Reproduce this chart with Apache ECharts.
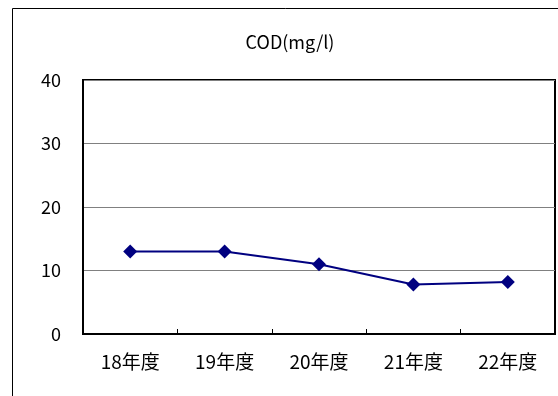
<!DOCTYPE html>
<html>
<head>
<meta charset="utf-8">
<script src="https://cdn.jsdelivr.net/npm/echarts@6/dist/echarts.min.js"></script>
<style>html,body{margin:0;padding:0;background:#fff;}#c{width:558px;height:396px;}</style>
</head>
<body>
<div id="c"></div>
<script>
const categories = ['18年度', '19年度', '20年度', '21年度', '22年度'];
const codValues = [13, 13, 11, 7.8, 8.2];
const yTicks = [0, 10, 20, 30, 40];
const titleText = 'COD(mg/l)';

const FONT = '"Noto Sans CJK JP", "Liberation Sans", sans-serif';
const chart = echarts.init(document.getElementById('c'), null, {renderer: 'canvas'});
chart.setOption({
  animation: false,
  backgroundColor: '#fff',
  graphic: [
    {type: 'rect', shape: {x: 12.5, y: 8.5, width: 600, height: 500}, style: {fill: 'none', stroke: '#000', lineWidth: 1}, silent: true, z: -1},
    {type: 'text', x: 290, y: 42, style: {text: titleText, font: '18px ' + FONT, fill: '#000', textAlign: 'center', textVerticalAlign: 'middle'}}
  ],
  grid: {left: 83, right: 3, top: 80, bottom: 62, show: true, borderColor: '#000', borderWidth: 2, backgroundColor: 'transparent'},
  xAxis: {
    type: 'category', data: categories, boundaryGap: true,
    axisLine: {lineStyle: {color: '#000', width: 2}},
    axisTick: {show: true, inside: true, length: 5, lineStyle: {color: '#000', width: 1}},
    axisLabel: {color: '#000', fontSize: 19, fontFamily: FONT, margin: 18}
  },
  yAxis: {
    type: 'value', min: yTicks[0], max: yTicks[yTicks.length - 1], interval: 10,
    axisLine: {show: true, lineStyle: {color: '#000', width: 2}},
    axisTick: {show: false},
    splitLine: {show: true, lineStyle: {color: '#808080', width: 1}},
    axisLabel: {color: '#000', fontSize: 18, fontFamily: FONT, margin: 22}
  },
  series: [{
    type: 'line', data: codValues,
    symbol: 'diamond', symbolSize: 14,
    lineStyle: {color: '#000080', width: 2},
    itemStyle: {color: '#000080'}
  }]
});
</script>
</body>
</html>
